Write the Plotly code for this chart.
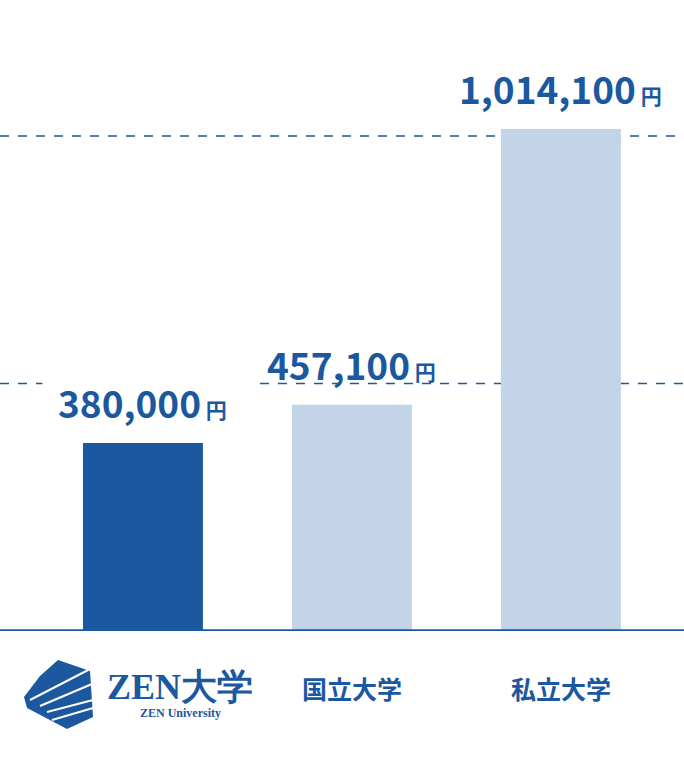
import plotly.graph_objects as go

categories = ["ZEN大学", "国立大学", "私立大学"]
fees = [380000, 457100, 1014100]
fee_labels = ["380,000", "457,100", "1,014,100"]
bar_colors = ["#1b58a0", "#c3d4e9", "#c3d4e9"]
grid_values = [500000, 1000000]

BLUE = "#1b58a0"
FONT = "Noto Sans CJK JP"
W, H, BASE = 684, 780, 631


def px(x, y):
    # pixel position -> paper coords
    return x / W, (BASE - y) / BASE


fig = go.Figure()
fig.add_trace(go.Bar(
    x=[0, 1, 2], y=fees, width=0.574,
    marker=dict(color=bar_colors, line=dict(width=0)),
    hoverinfo="skip",
))

# dashed guide lines (lower one broken behind the first label)
fig.add_shape(type="line", xref="paper", yref="y", x0=0, x1=1,
              y0=grid_values[1], y1=grid_values[1],
              line=dict(color=BLUE, width=1.5, dash="dash"), layer="below")
for x0, x1 in [(0, 0.062), (0.38, 1)]:
    fig.add_shape(type="line", xref="paper", yref="y", x0=x0, x1=x1,
                  y0=grid_values[0], y1=grid_values[0],
                  line=dict(color=BLUE, width=1.5, dash="dash"), layer="below")

# value labels
for i, (v, lab) in enumerate(zip(fees, fee_labels)):
    fig.add_annotation(
        x=i, y=v, yshift=41, showarrow=False, xanchor="center",
        text=f"<b>{lab}</b><span style='font-size:21px'><b> 円</b></span>",
        font=dict(family=FONT, size=37, color=BLUE),
    )

# category labels
for i, c in enumerate(categories[1:], start=1):
    fig.add_annotation(x=i, y=0, yref="y", yshift=-57, showarrow=False,
                       text=f"<b>{c}</b>",
                       font=dict(family=FONT, size=25, color=BLUE))

# ZEN University logo
fx, fy = px(180, 687)
fig.add_annotation(x=fx, y=fy, xref="paper", yref="paper", showarrow=False,
                   xanchor="center", yanchor="middle",
                   text="<b>ZEN</b><b>大学</b>",
                   font=dict(family="Liberation Serif", size=36, color=BLUE))
fx, fy = px(180, 713)
fig.add_annotation(x=fx, y=fy, xref="paper", yref="paper", showarrow=False,
                   xanchor="center", yanchor="middle",
                   text="<b>ZEN University</b>",
                   font=dict(family="Liberation Serif", size=12, color=BLUE))
icon = [(58, 660), (90, 671), (93, 717), (67, 729), (27, 708), (24, 697), (40, 676)]
path = "M " + " L ".join("%.4f %.4f" % px(x, y) for x, y in icon) + " Z"
fig.add_shape(type="path", xref="paper", yref="paper", layer="above",
              path=path, fillcolor=BLUE, line=dict(width=0))
for (a, b), (c, d) in [((92, 668), (30, 700)), ((92, 684), (40, 706)),
                       ((93, 700), (47, 712)), ((93, 708), (52, 720))]:
    x0, y0 = px(a, b)
    x1, y1 = px(c, d)
    fig.add_shape(type="line", xref="paper", yref="paper", layer="above",
                  x0=x0, y0=y0, x1=x1, y1=y1,
                  line=dict(color="white", width=2))

fig.update_layout(
    width=W, height=H,
    margin=dict(l=0, r=0, t=0, b=H - BASE),
    plot_bgcolor="white", paper_bgcolor="white",
    showlegend=False,
    xaxis=dict(range=[-0.684, 2.589], showticklabels=False, showgrid=False,
               zeroline=False, fixedrange=True),
    yaxis=dict(range=[0, 1275000], showticklabels=False, showgrid=False,
               zeroline=False, fixedrange=True),
)
fig.add_shape(type="line", xref="paper", yref="y", x0=0, x1=1, y0=0, y1=0,
              layer="above", line=dict(color=BLUE, width=3.5))

fig.write_html("out.html", config={"displayModeBar": False},
               post_script="document.body.style.margin='0';")
